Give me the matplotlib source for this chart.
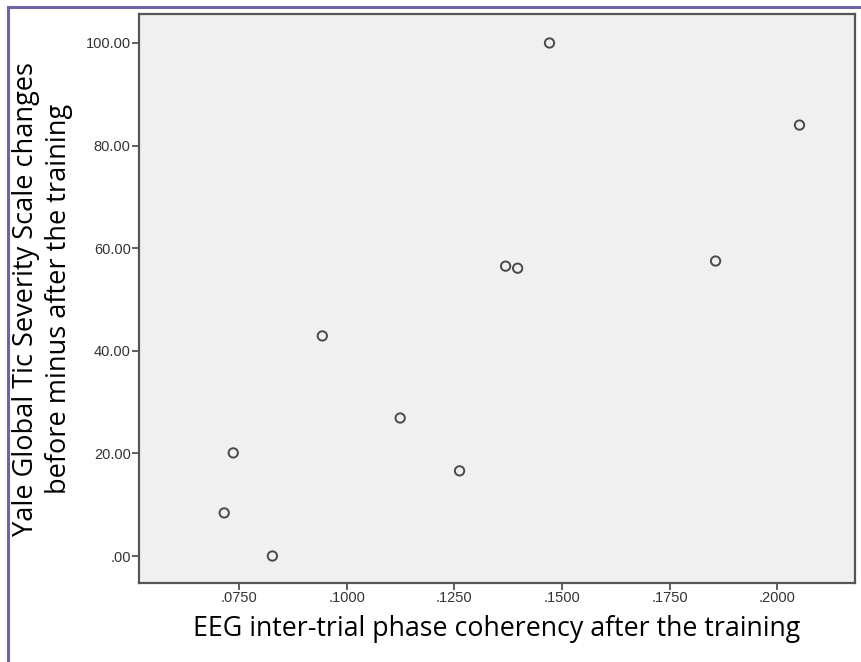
import matplotlib.pyplot as plt
from matplotlib.patches import Rectangle
from matplotlib.ticker import FixedLocator

# EEG coherency (x) vs YGTSS change (y)
coherency = [0.1471, 0.2052, 0.1369, 0.1397, 0.1857, 0.0943, 0.1124, 0.1262, 0.0736, 0.0715, 0.0827]
ygtss_change = [100.0, 84.0, 56.5, 56.1, 57.5, 42.9, 26.9, 16.6, 20.1, 8.4, 0.0]

x_ticks = [0.075, 0.100, 0.125, 0.150, 0.175, 0.200]
x_ticklabels = ['.0750', '.1000', '.1250', '.1500', '.1750', '.2000']
y_ticks = [0, 20, 40, 60, 80, 100]
y_ticklabels = ['.00', '20.00', '40.00', '60.00', '80.00', '100.00']

fig = plt.figure(figsize=(8.61, 6.62), dpi=100)
W, H = 861, 662
ax = fig.add_axes([139 / W, 1 - 583 / H, (855 - 139) / W, (583 - 14) / H])
ax.set_facecolor('#f0f0f0')

ax.scatter(coherency, ygtss_change, s=45, facecolors='none', edgecolors='#4a4a4a', linewidths=1.4, zorder=3)

ax.set_xlim(0.0517, 0.2181)
ax.set_ylim(-5.26, 105.65)
ax.xaxis.set_major_locator(FixedLocator(x_ticks))
ax.set_xticklabels(x_ticklabels)
ax.yaxis.set_major_locator(FixedLocator(y_ticks))
ax.set_yticklabels(y_ticklabels)
ax.tick_params(direction='out', length=5, width=1.2, color='#444444', labelsize=10.5,
               labelcolor='#333333', pad=1)
for lbl in ax.get_xticklabels() + ax.get_yticklabels():
    lbl.set_family('Liberation Sans')
for sp in ax.spines.values():
    sp.set_color('#555555')
    sp.set_linewidth(1.6)

ax.set_xlabel('EEG inter-trial phase coherency after the training', fontsize=19.3,
              family='Open Sans', color='black', labelpad=7)
ax.set_ylabel('Yale Global Tic Severity Scale changes\nbefore minus after the training',
              fontsize=19.5, family='Open Sans', color='black', labelpad=9, linespacing=1.25)

# purple frame around the figure
fig.patches.append(Rectangle((8 / W, -0.01), 1.0, 1 - 7 / H + 0.01, transform=fig.transFigure,
                             fill=False, edgecolor='#6a66a3', linewidth=2.2))

fig.savefig('out.png', dpi=100)
